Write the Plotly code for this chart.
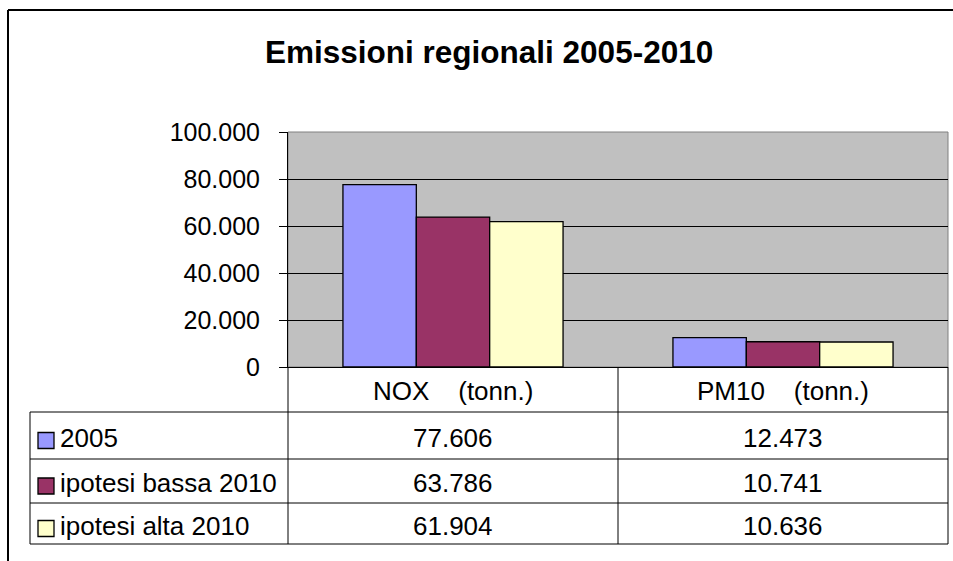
import plotly.graph_objects as go

# ---- data ----
categories = ["NOX\u00a0\u00a0\u00a0\u00a0(tonn.)", "PM10\u00a0\u00a0\u00a0\u00a0(tonn.)"]
series_names = ["2005", "ipotesi bassa 2010", "ipotesi alta 2010"]
values_2005 = [77606, 12473]
values_bassa = [63786, 10741]
values_alta = [61904, 10636]
y_tick_vals = [0, 20000, 40000, 60000, 80000, 100000]

series_values = [values_2005, values_bassa, values_alta]
colors = ["#9999FF", "#993366", "#FFFFCC"]
FONT = "Arial, 'Liberation Sans', sans-serif"

W, H = 953, 561
L, R, T, B = 288, 948, 132, 367  # plot area in screen coordinates


def px(x):
    return (x - L) / (R - L)


def py(y):
    return (B - y) / (B - T)


def fmt(v):
    return f"{v:,}".replace(",", ".")


fig = go.Figure()
for name, vals, col in zip(series_names, series_values, colors):
    fig.add_trace(go.Bar(
        x=categories, y=vals, name=name,
        marker=dict(color=col, line=dict(color="black", width=1.3)),
    ))

shapes = []
annotations = []

# outer chart border (continues off canvas right and bottom)
shapes.append(dict(type="line", xref="paper", yref="paper",
                   x0=px(8), x1=px(W + 20), y0=py(10), y1=py(10),
                   line=dict(color="black", width=2)))
shapes.append(dict(type="line", xref="paper", yref="paper",
                   x0=px(8), x1=px(8), y0=py(10), y1=py(H + 20),
                   line=dict(color="black", width=2)))

# plot-area border
shapes.append(dict(type="rect", xref="paper", yref="paper",
                   x0=0, x1=1, y0=0, y1=1,
                   line=dict(color="#808080", width=1), layer="below"))

# data table grid
row_lines = [367, 412, 459, 503, 544]
col_lines = [30, 288, 618, 948]
for yl in row_lines[1:]:
    shapes.append(dict(type="line", xref="paper", yref="paper",
                       x0=px(col_lines[0]), x1=px(col_lines[-1]),
                       y0=py(yl), y1=py(yl), line=dict(color="black", width=1)))
shapes.append(dict(type="line", xref="paper", yref="paper",
                   x0=px(col_lines[0]), x1=px(col_lines[0]),
                   y0=py(row_lines[1]), y1=py(row_lines[-1]),
                   line=dict(color="black", width=1)))
for xl in col_lines[1:]:
    shapes.append(dict(type="line", xref="paper", yref="paper",
                       x0=px(xl), x1=px(xl),
                       y0=py(row_lines[0]), y1=py(row_lines[-1]),
                       line=dict(color="black", width=1)))

TF = 26
# header row: category labels
for i, cat in enumerate(categories):
    cx = (col_lines[i + 1] + col_lines[i + 2]) / 2
    annotations.append(dict(xref="paper", yref="paper", x=px(cx),
                            y=py((row_lines[0] + row_lines[1]) / 2 + 1),
                            text=cat, showarrow=False, xanchor="center", yanchor="middle",
                            font=dict(family=FONT, size=TF, color="black")))

# body rows
for r, (name, vals, col) in enumerate(zip(series_names, series_values, colors)):
    top, bot = row_lines[r + 1], row_lines[r + 2]
    mid = (top + bot) / 2
    # legend key
    shapes.append(dict(type="rect", xref="paper", yref="paper",
                       x0=px(38), x1=px(54), y0=py(mid - 3), y1=py(mid + 13),
                       fillcolor=col, line=dict(color="black", width=1.3)))
    annotations.append(dict(xref="paper", yref="paper", x=px(58), y=py(mid + 2),
                            text=name, showarrow=False, xanchor="left", yanchor="middle",
                            font=dict(family=FONT, size=TF, color="black")))
    for c, v in enumerate(vals):
        cx = (col_lines[c + 1] + col_lines[c + 2]) / 2
        annotations.append(dict(xref="paper", yref="paper", x=px(cx), y=py(mid + 2),
                                text=fmt(v), showarrow=False, xanchor="center", yanchor="middle",
                                font=dict(family=FONT, size=TF, color="black")))

# title
annotations.append(dict(xref="paper", yref="paper", x=px(488.5), y=py(52),
                        text="<b>Emissioni regionali 2005-2010</b>", showarrow=False,
                        xanchor="center", yanchor="middle",
                        font=dict(family=FONT, size=31.5, color="black")))

fig.update_layout(
    width=W, height=H, autosize=False,
    margin=dict(l=L, r=W - R, t=T, b=H - B, pad=0),
    paper_bgcolor="white", plot_bgcolor="#C0C0C0",
    separators=",.",
    barmode="group", bargap=0.333, bargroupgap=0,
    showlegend=False,
    shapes=shapes, annotations=annotations,
    font=dict(family=FONT, color="black"),
)
fig.update_xaxes(showticklabels=False, ticks="", showgrid=False,
                 showline=True, linecolor="black", linewidth=1, zeroline=False)
fig.update_yaxes(range=[0, 100000], tickvals=y_tick_vals, tickformat=",.0f",
                 showgrid=True, gridcolor="black", gridwidth=1,
                 showline=True, linecolor="black", linewidth=1,
                 ticks="outside", ticklen=8, tickcolor="black", tickwidth=1,
                 ticklabelstandoff=14, zeroline=False,
                 tickfont=dict(family=FONT, size=25, color="black"))

fig.write_html(
    "out.html",
    config={"displayModeBar": False},
    post_script="document.body.style.margin='0';document.body.style.overflow='hidden';",
)
